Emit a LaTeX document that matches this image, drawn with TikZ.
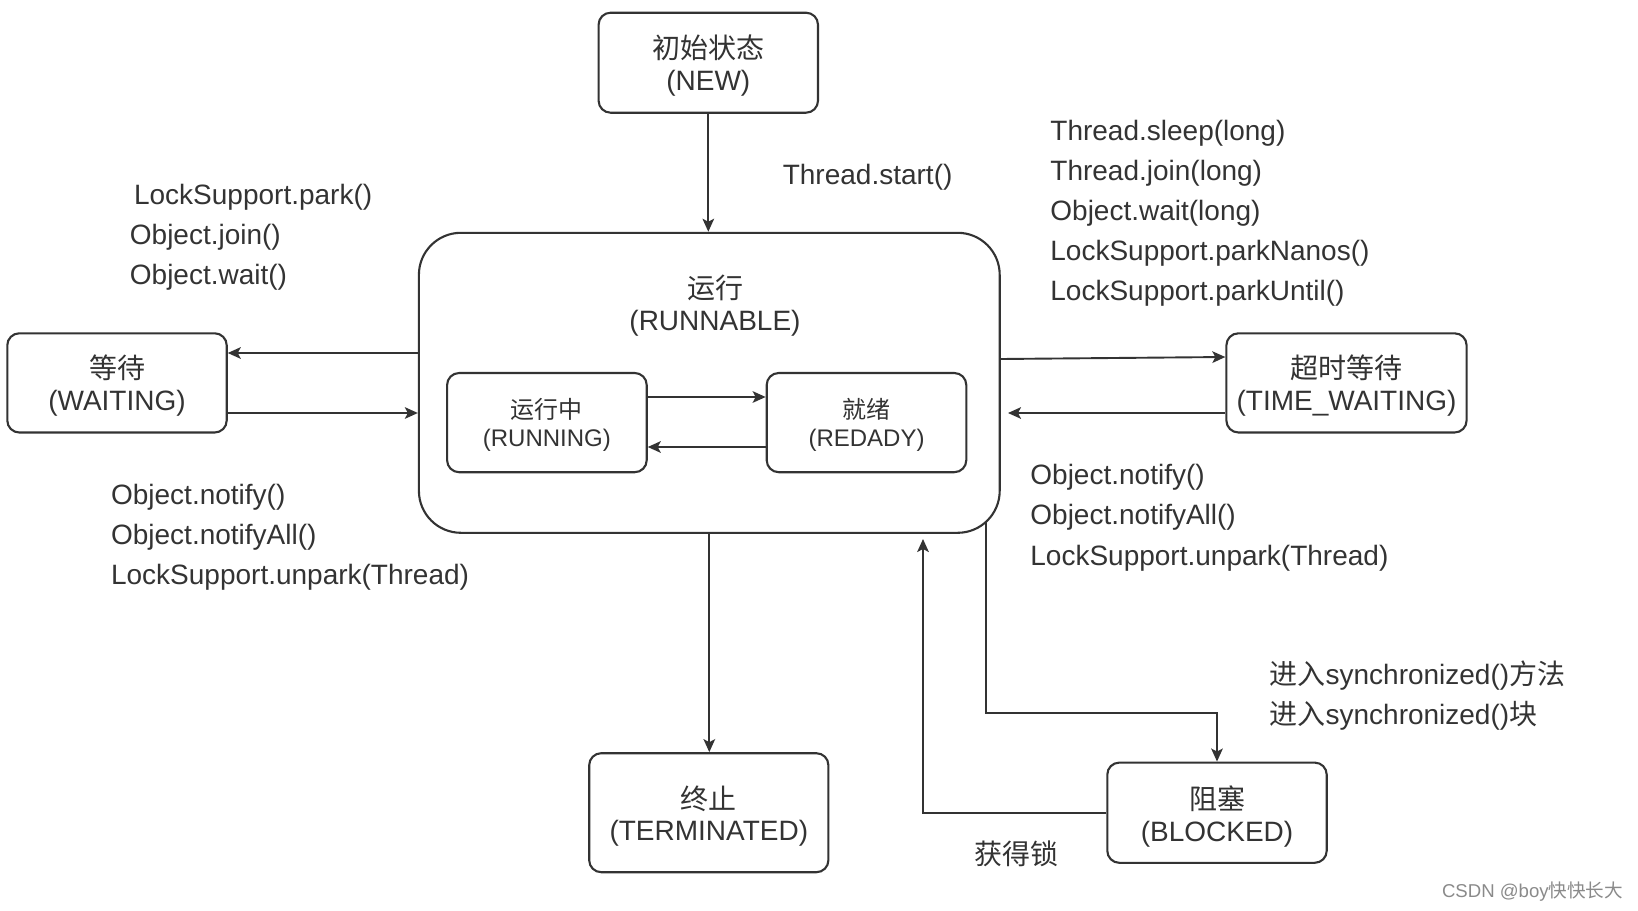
\documentclass[tikz,border=0pt]{standalone}
\usepackage{fontspec}
\setmainfont{Liberation Sans}
\newfontfamily\cjk{Noto Sans CJK SC}
\usetikzlibrary{arrows.meta}
\definecolor{ink}{HTML}{333333}
\definecolor{wm}{HTML}{8A8A8A}
\begin{document}
\begin{tikzpicture}[x=0.5pt,y=-0.5pt,
  box/.style={draw=ink, line width=1.05pt, rounded corners=6pt, inner sep=0pt},
  bigbox/.style={draw=ink, line width=1.05pt, rounded corners=21pt, inner sep=0pt},
  txt/.style={align=center, inner sep=0pt, text=ink, font=\fontsize{14}{15.8}\selectfont},
  smalltxt/.style={txt, font=\fontsize{12}{14}\selectfont},
  arr/.style={draw=ink, line width=0.95pt, -{Stealth[length=6.5pt,width=5.8pt,inset=1.5pt]}},
  lbl/.style={anchor=base west, inner sep=0pt, text=ink, font=\fontsize{14}{16}\selectfont},
]
\useasboundingbox (0,0) rectangle (1638,910);

% state boxes
\node[box, minimum width=109.7pt, minimum height=50pt] (new) at (708.3,62.7) {};
\node[txt] (newt) at ([yshift=-1.4pt]new.center) {{\cjk 初始状态}\\(NEW)};
\node[bigbox, minimum width=290.4pt, minimum height=150pt] (runnable) at (709.3,382.8) {};
\node[txt] (runlbl) at (715,305.5) {{\cjk 运行}\\(RUNNABLE)};
\node[box, minimum width=99.8pt, minimum height=49.6pt] (running) at (546.9,422.6) {};
\node[smalltxt] (runningt) at ([yshift=-1pt]running.center) {{\cjk 运行中}\\(RUNNING)};
\node[box, minimum width=99.8pt, minimum height=49.6pt] (ready) at (866.5,422.6) {};
\node[smalltxt] (readyt) at ([yshift=-1pt]ready.center) {{\cjk 就绪}\\(REDADY)};
\node[box, minimum width=109.7pt, minimum height=49.6pt] (waiting) at (117,382.9) {};
\node[txt] (waitingt) at ([yshift=-1.4pt]waiting.center) {{\cjk 等待}\\(WAITING)};
\node[box, minimum width=120.1pt, minimum height=49.6pt] (timewait) at (1346.5,382.9) {};
\node[txt] (timewaitt) at ([yshift=-1.4pt]timewait.center) {{\cjk 超时等待}\\(TIME\_WAITING)};
\node[box, minimum width=119.6pt, minimum height=59.5pt] (terminated) at (708.8,812.7) {};
\node[txt] (terminatedt) at ([yshift=-1.8pt]terminated.center) {{\cjk 终止}\\(TERMINATED)};
\node[box, minimum width=109.7pt, minimum height=50.1pt] (blocked) at (1217,812.7) {};
\node[txt] (blockedt) at ([yshift=-1.8pt]blocked.center) {{\cjk 阻塞}\\(BLOCKED)};

% connectors
\draw[arr] (new.south) -- (new.south |- runnable.north);
\draw[arr] (runnable.west |- 0,353) -- (waiting.east |- 0,353);
\draw[arr] (waiting.east |- 0,413) -- (runnable.west |- 0,413);
\draw[arr] (runnable.east |- 0,359) -- (timewait.west |- 0,357);
\coordinate (twend) at (1008,413);
\draw[arr] (timewait.west |- 0,413) -- (twend);
\draw[arr] (running.east |- 0,397) -- (ready.west |- 0,397);
\draw[arr] (ready.west |- 0,447) -- (running.east |- 0,447);
\draw[arr] (runnable.south) -- (runnable.south |- terminated.north);
\coordinate (bstart) at (986,522);
\coordinate (bturn) at (986,713);
\draw[arr] (bstart) -- (bturn) -| (blocked.north);
\coordinate (lockend) at (923,539);
\draw[arr] (blocked.west) -| (lockend);

% labels
\node[lbl] (start) at (782.4,184) {Thread.start()};

\node[lbl] (tw1) at (1050,140.9) {Thread.sleep(long)};
\node[lbl] (tw2) at (1050,180.7) {Thread.join(long)};
\node[lbl] (tw3) at (1050,220.7) {Object.wait(long)};
\node[lbl] (tw4) at (1050,260.9) {LockSupport.parkNanos()};
\node[lbl] (tw5) at (1050,300.7) {LockSupport.parkUntil()};

\node[lbl] (w1) at (133.7,204) {LockSupport.park()};
\node[lbl] (w2) at (129.5,244) {Object.join()};
\node[lbl] (w3) at (129.5,284) {Object.wait()};

\node[lbl] (n1) at (110.7,504) {Object.notify()};
\node[lbl] (n2) at (110.7,544) {Object.notifyAll()};
\node[lbl] (n3) at (110.7,584.5) {LockSupport.unpark(Thread)};

\node[lbl] (m1) at (1030,484) {Object.notify()};
\node[lbl] (m2) at (1030,524) {Object.notifyAll()};
\node[lbl] (m3) at (1030,565) {LockSupport.unpark(Thread)};

\node[lbl] (s1) at (1269.2,684) {{\cjk 进入}synchronized(){\cjk 方法}};
\node[lbl] (s2) at (1269.2,724.5) {{\cjk 进入}synchronized(){\cjk 块}};

\node[lbl] (lock) at (973.6,864) {{\cjk 获得锁}};

\node[lbl, text=wm, font=\fontsize{9.3}{11}\selectfont] (csdn) at (1441.6,897) {CSDN @boy{\cjk 快快长大}};
\end{tikzpicture}
\end{document}
